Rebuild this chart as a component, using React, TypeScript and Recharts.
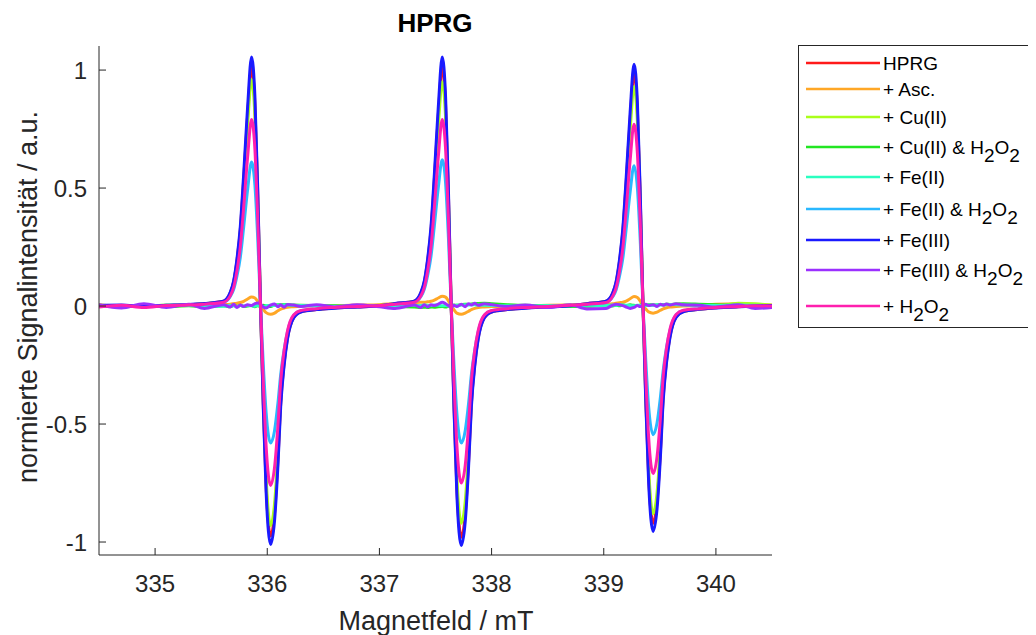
import { LineChart, Line, XAxis, YAxis } from 'recharts';

// magnetic field grid (mT), denser around the three lines
const field = [
  334.5, 334.7, 334.9, 335.1, 335.3,
  335.44, 335.61, 335.67, 335.7, 335.73, 335.76, 335.79, 335.825, 335.86, 335.89, 335.915, 335.94,
  335.965, 335.99, 336.03, 336.065, 336.095, 336.12, 336.15, 336.18, 336.235, 336.3, 336.44,
  336.6, 336.8, 337.0,
  337.14, 337.31, 337.37, 337.4, 337.43, 337.46, 337.49, 337.525, 337.56, 337.59, 337.615, 337.64,
  337.665, 337.69, 337.73, 337.765, 337.795, 337.82, 337.85, 337.88, 337.935, 338.0, 338.14,
  338.3, 338.5, 338.7,
  338.85, 339.02, 339.08, 339.11, 339.14, 339.17, 339.2, 339.235, 339.27, 339.3, 339.325, 339.35,
  339.375, 339.4, 339.44, 339.475, 339.505, 339.53, 339.56, 339.59, 339.645, 339.71, 339.85,
  340.0, 340.2, 340.35, 340.5,
];

const hprg = [
  0.004, -0.002, 0.003, 0.001, 0.006,
  0.01, 0.02, 0.056, 0.101, 0.192, 0.323, 0.535, 0.808, 1.01, 0.848, 0.475, 0.0,
  -0.419, -0.761, -0.975, -0.878, -0.653, -0.41, -0.244, -0.137, -0.049, -0.024, -0.015,
  -0.008, -0.004, 0.001,
  0.01, 0.02, 0.056, 0.101, 0.192, 0.323, 0.535, 0.808, 1.01, 0.848, 0.475, 0.0,
  -0.421, -0.764, -0.98, -0.882, -0.657, -0.412, -0.245, -0.137, -0.049, -0.025, -0.015,
  -0.008, -0.003, 0.002,
  0.01, 0.02, 0.054, 0.099, 0.187, 0.315, 0.522, 0.788, 0.985, 0.827, 0.463, 0.0,
  -0.396, -0.718, -0.92, -0.828, -0.616, -0.386, -0.23, -0.129, -0.046, -0.023, -0.014,
  -0.007, -0.003, 0.001, 0.002,
];

const asc = [
  0.003, -0.002, 0.002, 0.0, 0.004,
  0.003, 0.006, 0.008, 0.01, 0.012, 0.015, 0.02, 0.03, 0.038, 0.034, 0.02, 0.002,
  -0.014, -0.028, -0.035, -0.03, -0.02, -0.013, -0.008, -0.005, -0.003, -0.001, 0.001,
  0.002, 0.004, 0.006,
  0.01, 0.014, 0.016, 0.016, 0.018, 0.02, 0.025, 0.034, 0.042, 0.038, 0.022, 0.002,
  -0.016, -0.03, -0.035, -0.03, -0.022, -0.015, -0.01, -0.006, -0.004, -0.002, 0.0,
  0.002, 0.003, 0.004,
  0.005, 0.008, 0.01, 0.012, 0.014, 0.016, 0.021, 0.031, 0.04, 0.036, 0.021, 0.002,
  -0.013, -0.025, -0.03, -0.026, -0.018, -0.012, -0.007, -0.004, -0.002, 0.0, 0.003,
  0.008, 0.01, 0.006, 0.004,
];

const cu2 = [
  0.003, 0.001, -0.002, 0.004, 0.005,
  0.01, 0.019, 0.053, 0.096, 0.182, 0.307, 0.509, 0.768, 0.96, 0.806, 0.451, 0.0,
  -0.4, -0.725, -0.93, -0.837, -0.623, -0.391, -0.233, -0.13, -0.047, -0.023, -0.014,
  -0.007, -0.002, 0.003,
  0.01, 0.019, 0.052, 0.095, 0.181, 0.304, 0.504, 0.76, 0.95, 0.798, 0.447, 0.0,
  -0.396, -0.718, -0.92, -0.828, -0.616, -0.386, -0.23, -0.129, -0.046, -0.023, -0.014,
  -0.006, -0.001, 0.004,
  0.009, 0.019, 0.051, 0.093, 0.177, 0.298, 0.493, 0.744, 0.93, 0.781, 0.437, 0.0,
  -0.378, -0.686, -0.88, -0.792, -0.59, -0.37, -0.22, -0.123, -0.044, -0.022, -0.013,
  -0.004, 0.012, 0.01, 0.003,
];

const cu2H2o2 = [
  0.002, -0.003, 0.004, -0.002, 0.001,
  -0.002, 0.001, -0.003, 0.002, -0.001, 0.003, -0.002, 0.0, 0.002, -0.003, 0.001, -0.002,
  0.003, 0.0, -0.002, 0.004, 0.006, 0.005, 0.007, 0.006, 0.004, 0.003, 0.002,
  0.001, -0.002, 0.0,
  -0.003, -0.004, -0.006, -0.005, -0.006, -0.004, -0.005, -0.003, -0.002, -0.004, -0.001, 0.002,
  0.004, 0.003, 0.006, 0.008, 0.007, 0.009, 0.01, 0.011, 0.012, 0.01, 0.006,
  0.003, 0.0, -0.002,
  -0.001, 0.002, 0.0, 0.003, 0.001, 0.004, 0.002, 0.005, 0.003, 0.002, 0.004, 0.001,
  0.003, 0.005, 0.006, 0.004, 0.007, 0.006, 0.008, 0.007, 0.009, 0.01, 0.008,
  0.005, 0.003, 0.001, 0.0,
];

const fe2 = [
  -0.001, 0.002, -0.002, 0.001, 0.003,
  0.002, -0.001, 0.003, 0.001, -0.002, 0.002, 0.0, 0.003, 0.001, -0.001, 0.002, 0.0,
  -0.002, 0.001, 0.003, 0.002, 0.004, 0.003, 0.005, 0.004, 0.003, 0.002, 0.001,
  -0.001, 0.001, 0.002,
  0.001, 0.003, 0.002, 0.004, 0.003, 0.002, 0.004, 0.003, 0.001, 0.002, 0.0, -0.001,
  0.001, 0.003, 0.004, 0.005, 0.004, 0.006, 0.005, 0.004, 0.003, 0.002, 0.001,
  0.0, 0.002, 0.001,
  0.003, 0.002, 0.004, 0.003, 0.005, 0.004, 0.003, 0.002, 0.001, 0.003, 0.002, 0.0,
  0.002, 0.004, 0.003, 0.005, 0.004, 0.006, 0.005, 0.007, 0.006, 0.004, 0.003,
  0.002, 0.004, 0.003, 0.001,
];

const fe2H2o2 = [
  0.002, -0.003, 0.001, 0.003, 0.005,
  0.007, 0.015, 0.04, 0.07, 0.128, 0.207, 0.336, 0.494, 0.61, 0.512, 0.287, 0.0,
  -0.249, -0.452, -0.58, -0.528, -0.412, -0.29, -0.186, -0.11, -0.041, -0.02, -0.012,
  -0.006, -0.003, 0.001,
  0.007, 0.016, 0.04, 0.071, 0.13, 0.211, 0.341, 0.502, 0.62, 0.521, 0.291, 0.0,
  -0.249, -0.452, -0.58, -0.528, -0.412, -0.29, -0.186, -0.11, -0.041, -0.02, -0.012,
  -0.006, -0.002, 0.002,
  0.007, 0.015, 0.039, 0.068, 0.125, 0.202, 0.327, 0.482, 0.595, 0.5, 0.28, 0.0,
  -0.234, -0.425, -0.545, -0.496, -0.387, -0.273, -0.174, -0.104, -0.038, -0.019, -0.011,
  -0.006, -0.002, 0.001, 0.001,
];

const fe3 = [
  0.002, 0.004, -0.001, 0.003, 0.007,
  0.011, 0.021, 0.058, 0.106, 0.2, 0.338, 0.559, 0.844, 1.055, 0.886, 0.496, 0.0,
  -0.434, -0.788, -1.01, -0.909, -0.677, -0.424, -0.253, -0.141, -0.051, -0.025, -0.015,
  -0.009, -0.004, 0.001,
  0.011, 0.021, 0.058, 0.106, 0.2, 0.338, 0.559, 0.844, 1.055, 0.886, 0.496, 0.0,
  -0.436, -0.792, -1.015, -0.914, -0.68, -0.426, -0.254, -0.142, -0.051, -0.025, -0.015,
  -0.009, -0.004, 0.001,
  0.01, 0.021, 0.056, 0.103, 0.195, 0.328, 0.543, 0.82, 1.025, 0.861, 0.482, 0.0,
  -0.411, -0.745, -0.955, -0.86, -0.64, -0.401, -0.239, -0.134, -0.048, -0.024, -0.014,
  -0.008, -0.003, 0.0, 0.002,
];

const fe3H2o2 = [
  0.006, -0.008, 0.01, -0.006, 0.008,
  -0.01, 0.006, -0.004, 0.008, -0.006, 0.004, -0.002, 0.006, 0.002, 0.01, 0.013, 0.008,
  -0.004, -0.008, 0.004, 0.009, -0.003, 0.006, -0.005, 0.007, 0.004, -0.002, 0.006,
  -0.004, 0.006, -0.003,
  -0.01, 0.004, -0.006, 0.006, -0.004, 0.005, 0.002, 0.008, 0.016, 0.01, 0.002, -0.004,
  0.003, -0.002, 0.008, -0.003, 0.01, 0.004, 0.012, 0.003, 0.01, 0.006, -0.002,
  0.004, -0.006, 0.005,
  -0.012, -0.01, 0.004, 0.008, 0.006, 0.002, -0.004, -0.01, -0.006, 0.002, -0.002, 0.004,
  0.008, 0.002, 0.006, -0.002, 0.008, 0.003, 0.009, 0.004, 0.01, 0.005, 0.003,
  -0.004, 0.006, -0.01, -0.006,
];

const h2o2 = [
  -0.004, 0.003, -0.006, 0.002, 0.004,
  0.008, 0.016, 0.043, 0.079, 0.15, 0.253, 0.419, 0.632, 0.79, 0.664, 0.371, 0.0,
  -0.327, -0.593, -0.76, -0.684, -0.509, -0.319, -0.19, -0.106, -0.038, -0.019, -0.011,
  -0.006, -0.002, 0.002,
  0.008, 0.016, 0.043, 0.079, 0.15, 0.253, 0.419, 0.632, 0.79, 0.664, 0.371, 0.0,
  -0.323, -0.585, -0.75, -0.675, -0.503, -0.315, -0.188, -0.105, -0.038, -0.019, -0.011,
  -0.006, -0.002, 0.003,
  0.008, 0.015, 0.042, 0.077, 0.146, 0.246, 0.408, 0.616, 0.77, 0.647, 0.362, 0.0,
  -0.305, -0.554, -0.71, -0.639, -0.476, -0.298, -0.178, -0.099, -0.036, -0.018, -0.011,
  -0.006, -0.002, 0.001, 0.0,
];

const seriesKeys = ['hprg', 'asc', 'cu2', 'cu2H2o2', 'fe2', 'fe2H2o2', 'fe3', 'fe3H2o2', 'h2o2'];
const seriesValues = [hprg, asc, cu2, cu2H2o2, fe2, fe2H2o2, fe3, fe3H2o2, h2o2];
// "_x" marks a subscript character
const seriesNames = [
  'HPRG', '+ Asc.', '+ Cu(II)', '+ Cu(II) & H_2O_2', '+ Fe(II)',
  '+ Fe(II) & H_2O_2', '+ Fe(III)', '+ Fe(III) & H_2O_2', '+ H_2O_2',
];
const seriesColors = [
  '#ff1a1a', '#ffa726', '#aaff1a', '#22e622', '#2affc0',
  '#2ab8ff', '#1a1aff', '#9b30ff', '#ff1fae',
];

const xTicks = [335, 336, 337, 338, 339, 340];
const yTicks = [-1, -0.5, 0, 0.5, 1];

const FONT = '"Liberation Sans", Arial, Helvetica, sans-serif';
const INK = '#262626';
const TICK = 7;

const data = field.map((x, i) => {
  const row: Record<string, number> = { x };
  seriesKeys.forEach((k, j) => { row[k] = seriesValues[j][i]; });
  return row;
});

function BottomTick({ x, y, payload }: any) {
  return (
    <g>
      <line x1={x} y1={y} x2={x} y2={y - TICK} stroke={INK} />
      <text x={x} y={y + 37} textAnchor="middle" fontSize={24} fill={INK} fontFamily={FONT}>
        {payload.value}
      </text>
    </g>
  );
}

function TopTick({ x, y }: any) {
  return <line x1={x} y1={y} x2={x} y2={y + TICK} stroke={INK} />;
}

function LeftTick({ x, y, payload }: any) {
  return (
    <g>
      <line x1={x} y1={y} x2={x + TICK} y2={y} stroke={INK} />
      <text x={x - 12} y={y + 8.5} textAnchor="end" fontSize={24} fill={INK} fontFamily={FONT}>
        {payload.value}
      </text>
    </g>
  );
}

function RightTick({ x, y }: any) {
  return <line x1={x} y1={y} x2={x - TICK} y2={y} stroke={INK} />;
}

function SubText({ label, x, y }: { label: string, x: number, y: number }) {
  const parts: any[] = [];
  let shifted = false;
  for (let i = 0; i < label.length; i++) {
    if (label[i] === '_') {
      parts.push(<tspan key={i} dy={8}>{label[i + 1]}</tspan>);
      shifted = true;
      i++;
    } else {
      parts.push(<tspan key={i} dy={shifted ? -8 : 0}>{label[i]}</tspan>);
      shifted = false;
    }
  }
  return (
    <text x={x} y={y} fontSize={19} fill="#000" fontFamily={FONT}>
      {parts}
    </text>
  );
}

const legendRows = [55, 81, 109, 139, 169, 201, 232, 262, 298];

function App() {
  return (
    <div style={{ position: 'relative', width: 1020, height: 627, background: '#fff' }}>
      <LineChart
        width={1020}
        height={627}
        data={data}
        margin={{ top: 38, right: 256, bottom: 0, left: 0 }}
      >
        <XAxis
          dataKey="x"
          type="number"
          domain={[334.5, 340.5]}
          ticks={xTicks}
          interval={0}
          allowDataOverflow
          height={80}
          tickSize={0}
          tickMargin={0}
          tickLine={false}
          axisLine={{ stroke: INK }}
          tick={<BottomTick />}
        />
        <XAxis
          xAxisId="t"
          orientation="top"
          dataKey="x"
          type="number"
          domain={[334.5, 340.5]}
          ticks={xTicks}
          interval={0}
          allowDataOverflow
          height={0}
          tickSize={0}
          tickMargin={0}
          tickLine={false}
          axisLine={{ stroke: INK }}
          tick={<TopTick />}
        />
        <YAxis
          type="number"
          domain={[-1.055, 1.102]}
          ticks={yTicks}
          interval={0}
          allowDataOverflow
          width={91}
          tickSize={0}
          tickMargin={0}
          tickLine={false}
          axisLine={{ stroke: INK }}
          tick={<LeftTick />}
        />
        <YAxis
          yAxisId="r"
          orientation="right"
          type="number"
          domain={[-1.055, 1.102]}
          ticks={yTicks}
          interval={0}
          allowDataOverflow
          width={0}
          tickSize={0}
          tickMargin={0}
          tickLine={false}
          axisLine={{ stroke: INK }}
          tick={<RightTick />}
        />
        {seriesKeys.map((k, i) => (
          <Line
            key={k}
            dataKey={k}
            type="monotone"
            stroke={seriesColors[i]}
            strokeWidth={3}
            dot={false}
            activeDot={false}
            isAnimationActive={false}
          />
        ))}
      </LineChart>
      <svg
        width={1020}
        height={627}
        style={{ position: 'absolute', left: 0, top: 0, pointerEvents: 'none', overflow: 'visible' }}
      >
        <text x={427} y={24} textAnchor="middle" fontSize={26} fontWeight="bold" fill="#000" fontFamily={FONT}>
          HPRG
        </text>
        <text x={428} y={622} textAnchor="middle" fontSize={27} fill={INK} fontFamily={FONT}>
          Magnetfeld / mT
        </text>
        <text
          x={29}
          y={289}
          textAnchor="middle"
          fontSize={27}
          fill={INK}
          fontFamily={FONT}
          transform="rotate(-90 29 289)"
        >
          normierte Signalintensität / a.u.
        </text>
        <rect x={790.5} y={37.5} width={230} height={282} fill="#fff" stroke={INK} />
        {seriesNames.map((name, i) => (
          <g key={name}>
            <line x1={798} y1={legendRows[i]} x2={872} y2={legendRows[i]} stroke={seriesColors[i]} strokeWidth={2.5} />
            <SubText label={name} x={875} y={legendRows[i] + 7} />
          </g>
        ))}
      </svg>
    </div>
  );
}

export default App;
